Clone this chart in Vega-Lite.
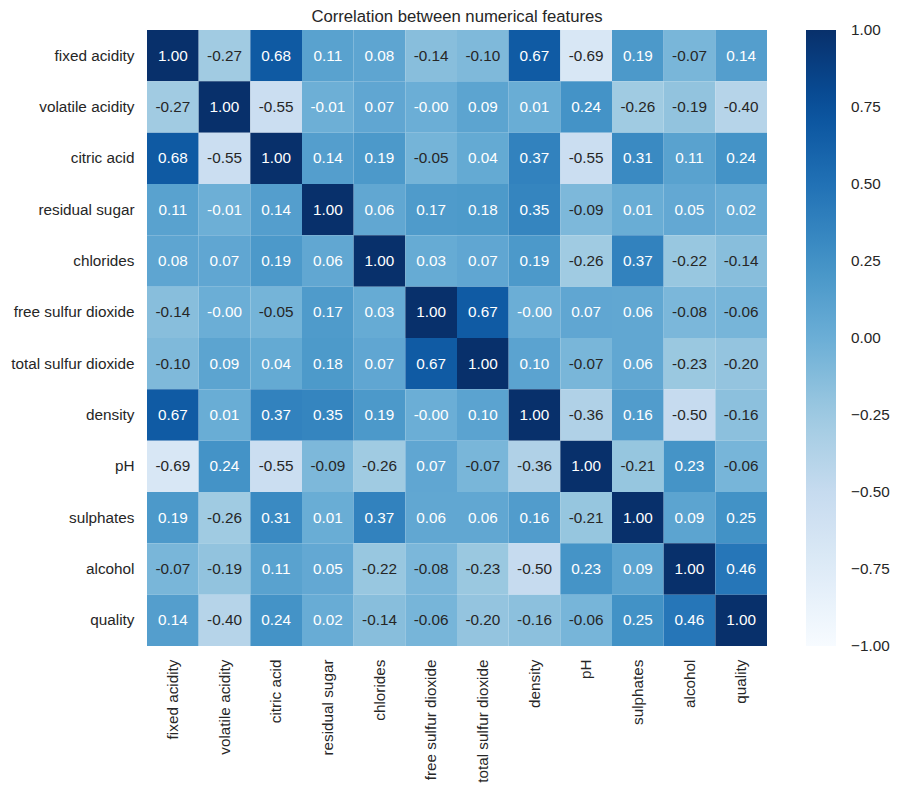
{
  "$schema": "https://vega.github.io/schema/vega-lite/v6.json",
  "autosize": {"type": "none"},
  "padding": {"left": 147, "top": 30, "right": 131, "bottom": 147},
  "width": 620,
  "height": 616,
  "background": "white",
  "title": {
    "text": "Correlation between numerical features",
    "font": "Liberation Sans",
    "fontSize": 16.7,
    "fontWeight": "normal",
    "color": "#262626",
    "anchor": "middle",
    "frame": "group",
    "baseline": "alphabetic",
    "offset": 8,
    "dy": 17
  },
  "config": {
    "view": {"stroke": null},
    "font": "Liberation Sans",
    "axis": {
      "domain": false,
      "ticks": false,
      "tickSize": 0,
      "grid": false,
      "title": null,
      "labelFont": "Liberation Sans",
      "labelFontSize": 15.3,
      "labelColor": "#262626",
      "labelPadding": 13,
      "labelLimit": 300
    }
  },
  "data": {
    "values": [
      {"row": "fixed acidity", "col": "fixed acidity", "r": 1.00},
      {"row": "fixed acidity", "col": "volatile acidity", "r": -0.27},
      {"row": "fixed acidity", "col": "citric acid", "r": 0.68},
      {"row": "fixed acidity", "col": "residual sugar", "r": 0.11},
      {"row": "fixed acidity", "col": "chlorides", "r": 0.08},
      {"row": "fixed acidity", "col": "free sulfur dioxide", "r": -0.14},
      {"row": "fixed acidity", "col": "total sulfur dioxide", "r": -0.10},
      {"row": "fixed acidity", "col": "density", "r": 0.67},
      {"row": "fixed acidity", "col": "pH", "r": -0.69},
      {"row": "fixed acidity", "col": "sulphates", "r": 0.19},
      {"row": "fixed acidity", "col": "alcohol", "r": -0.07},
      {"row": "fixed acidity", "col": "quality", "r": 0.14},

      {"row": "volatile acidity", "col": "fixed acidity", "r": -0.27},
      {"row": "volatile acidity", "col": "volatile acidity", "r": 1.00},
      {"row": "volatile acidity", "col": "citric acid", "r": -0.55},
      {"row": "volatile acidity", "col": "residual sugar", "r": -0.01},
      {"row": "volatile acidity", "col": "chlorides", "r": 0.07},
      {"row": "volatile acidity", "col": "free sulfur dioxide", "r": -0.002},
      {"row": "volatile acidity", "col": "total sulfur dioxide", "r": 0.09},
      {"row": "volatile acidity", "col": "density", "r": 0.01},
      {"row": "volatile acidity", "col": "pH", "r": 0.24},
      {"row": "volatile acidity", "col": "sulphates", "r": -0.26},
      {"row": "volatile acidity", "col": "alcohol", "r": -0.19},
      {"row": "volatile acidity", "col": "quality", "r": -0.40},

      {"row": "citric acid", "col": "fixed acidity", "r": 0.68},
      {"row": "citric acid", "col": "volatile acidity", "r": -0.55},
      {"row": "citric acid", "col": "citric acid", "r": 1.00},
      {"row": "citric acid", "col": "residual sugar", "r": 0.14},
      {"row": "citric acid", "col": "chlorides", "r": 0.19},
      {"row": "citric acid", "col": "free sulfur dioxide", "r": -0.05},
      {"row": "citric acid", "col": "total sulfur dioxide", "r": 0.04},
      {"row": "citric acid", "col": "density", "r": 0.37},
      {"row": "citric acid", "col": "pH", "r": -0.55},
      {"row": "citric acid", "col": "sulphates", "r": 0.31},
      {"row": "citric acid", "col": "alcohol", "r": 0.11},
      {"row": "citric acid", "col": "quality", "r": 0.24},

      {"row": "residual sugar", "col": "fixed acidity", "r": 0.11},
      {"row": "residual sugar", "col": "volatile acidity", "r": -0.01},
      {"row": "residual sugar", "col": "citric acid", "r": 0.14},
      {"row": "residual sugar", "col": "residual sugar", "r": 1.00},
      {"row": "residual sugar", "col": "chlorides", "r": 0.06},
      {"row": "residual sugar", "col": "free sulfur dioxide", "r": 0.17},
      {"row": "residual sugar", "col": "total sulfur dioxide", "r": 0.18},
      {"row": "residual sugar", "col": "density", "r": 0.35},
      {"row": "residual sugar", "col": "pH", "r": -0.09},
      {"row": "residual sugar", "col": "sulphates", "r": 0.01},
      {"row": "residual sugar", "col": "alcohol", "r": 0.05},
      {"row": "residual sugar", "col": "quality", "r": 0.02},

      {"row": "chlorides", "col": "fixed acidity", "r": 0.08},
      {"row": "chlorides", "col": "volatile acidity", "r": 0.07},
      {"row": "chlorides", "col": "citric acid", "r": 0.19},
      {"row": "chlorides", "col": "residual sugar", "r": 0.06},
      {"row": "chlorides", "col": "chlorides", "r": 1.00},
      {"row": "chlorides", "col": "free sulfur dioxide", "r": 0.03},
      {"row": "chlorides", "col": "total sulfur dioxide", "r": 0.07},
      {"row": "chlorides", "col": "density", "r": 0.19},
      {"row": "chlorides", "col": "pH", "r": -0.26},
      {"row": "chlorides", "col": "sulphates", "r": 0.37},
      {"row": "chlorides", "col": "alcohol", "r": -0.22},
      {"row": "chlorides", "col": "quality", "r": -0.14},

      {"row": "free sulfur dioxide", "col": "fixed acidity", "r": -0.14},
      {"row": "free sulfur dioxide", "col": "volatile acidity", "r": -0.002},
      {"row": "free sulfur dioxide", "col": "citric acid", "r": -0.05},
      {"row": "free sulfur dioxide", "col": "residual sugar", "r": 0.17},
      {"row": "free sulfur dioxide", "col": "chlorides", "r": 0.03},
      {"row": "free sulfur dioxide", "col": "free sulfur dioxide", "r": 1.00},
      {"row": "free sulfur dioxide", "col": "total sulfur dioxide", "r": 0.67},
      {"row": "free sulfur dioxide", "col": "density", "r": -0.002},
      {"row": "free sulfur dioxide", "col": "pH", "r": 0.07},
      {"row": "free sulfur dioxide", "col": "sulphates", "r": 0.06},
      {"row": "free sulfur dioxide", "col": "alcohol", "r": -0.08},
      {"row": "free sulfur dioxide", "col": "quality", "r": -0.06},

      {"row": "total sulfur dioxide", "col": "fixed acidity", "r": -0.10},
      {"row": "total sulfur dioxide", "col": "volatile acidity", "r": 0.09},
      {"row": "total sulfur dioxide", "col": "citric acid", "r": 0.04},
      {"row": "total sulfur dioxide", "col": "residual sugar", "r": 0.18},
      {"row": "total sulfur dioxide", "col": "chlorides", "r": 0.07},
      {"row": "total sulfur dioxide", "col": "free sulfur dioxide", "r": 0.67},
      {"row": "total sulfur dioxide", "col": "total sulfur dioxide", "r": 1.00},
      {"row": "total sulfur dioxide", "col": "density", "r": 0.10},
      {"row": "total sulfur dioxide", "col": "pH", "r": -0.07},
      {"row": "total sulfur dioxide", "col": "sulphates", "r": 0.06},
      {"row": "total sulfur dioxide", "col": "alcohol", "r": -0.23},
      {"row": "total sulfur dioxide", "col": "quality", "r": -0.20},

      {"row": "density", "col": "fixed acidity", "r": 0.67},
      {"row": "density", "col": "volatile acidity", "r": 0.01},
      {"row": "density", "col": "citric acid", "r": 0.37},
      {"row": "density", "col": "residual sugar", "r": 0.35},
      {"row": "density", "col": "chlorides", "r": 0.19},
      {"row": "density", "col": "free sulfur dioxide", "r": -0.002},
      {"row": "density", "col": "total sulfur dioxide", "r": 0.10},
      {"row": "density", "col": "density", "r": 1.00},
      {"row": "density", "col": "pH", "r": -0.36},
      {"row": "density", "col": "sulphates", "r": 0.16},
      {"row": "density", "col": "alcohol", "r": -0.50},
      {"row": "density", "col": "quality", "r": -0.16},

      {"row": "pH", "col": "fixed acidity", "r": -0.69},
      {"row": "pH", "col": "volatile acidity", "r": 0.24},
      {"row": "pH", "col": "citric acid", "r": -0.55},
      {"row": "pH", "col": "residual sugar", "r": -0.09},
      {"row": "pH", "col": "chlorides", "r": -0.26},
      {"row": "pH", "col": "free sulfur dioxide", "r": 0.07},
      {"row": "pH", "col": "total sulfur dioxide", "r": -0.07},
      {"row": "pH", "col": "density", "r": -0.36},
      {"row": "pH", "col": "pH", "r": 1.00},
      {"row": "pH", "col": "sulphates", "r": -0.21},
      {"row": "pH", "col": "alcohol", "r": 0.23},
      {"row": "pH", "col": "quality", "r": -0.06},

      {"row": "sulphates", "col": "fixed acidity", "r": 0.19},
      {"row": "sulphates", "col": "volatile acidity", "r": -0.26},
      {"row": "sulphates", "col": "citric acid", "r": 0.31},
      {"row": "sulphates", "col": "residual sugar", "r": 0.01},
      {"row": "sulphates", "col": "chlorides", "r": 0.37},
      {"row": "sulphates", "col": "free sulfur dioxide", "r": 0.06},
      {"row": "sulphates", "col": "total sulfur dioxide", "r": 0.06},
      {"row": "sulphates", "col": "density", "r": 0.16},
      {"row": "sulphates", "col": "pH", "r": -0.21},
      {"row": "sulphates", "col": "sulphates", "r": 1.00},
      {"row": "sulphates", "col": "alcohol", "r": 0.09},
      {"row": "sulphates", "col": "quality", "r": 0.25},

      {"row": "alcohol", "col": "fixed acidity", "r": -0.07},
      {"row": "alcohol", "col": "volatile acidity", "r": -0.19},
      {"row": "alcohol", "col": "citric acid", "r": 0.11},
      {"row": "alcohol", "col": "residual sugar", "r": 0.05},
      {"row": "alcohol", "col": "chlorides", "r": -0.22},
      {"row": "alcohol", "col": "free sulfur dioxide", "r": -0.08},
      {"row": "alcohol", "col": "total sulfur dioxide", "r": -0.23},
      {"row": "alcohol", "col": "density", "r": -0.50},
      {"row": "alcohol", "col": "pH", "r": 0.23},
      {"row": "alcohol", "col": "sulphates", "r": 0.09},
      {"row": "alcohol", "col": "alcohol", "r": 1.00},
      {"row": "alcohol", "col": "quality", "r": 0.46},

      {"row": "quality", "col": "fixed acidity", "r": 0.14},
      {"row": "quality", "col": "volatile acidity", "r": -0.40},
      {"row": "quality", "col": "citric acid", "r": 0.24},
      {"row": "quality", "col": "residual sugar", "r": 0.02},
      {"row": "quality", "col": "chlorides", "r": -0.14},
      {"row": "quality", "col": "free sulfur dioxide", "r": -0.06},
      {"row": "quality", "col": "total sulfur dioxide", "r": -0.20},
      {"row": "quality", "col": "density", "r": -0.16},
      {"row": "quality", "col": "pH", "r": -0.06},
      {"row": "quality", "col": "sulphates", "r": 0.25},
      {"row": "quality", "col": "alcohol", "r": 0.46},
      {"row": "quality", "col": "quality", "r": 1.00}
    ]
  },
  "transform": [
    {"calculate": "(datum.r < 0 ? '-' : '') + format(abs(datum.r), '.2f')", "as": "label"}
  ],
  "encoding": {
    "x": {
      "field": "col",
      "type": "nominal",
      "scale": {
        "domain": ["fixed acidity", "volatile acidity", "citric acid", "residual sugar", "chlorides", "free sulfur dioxide", "total sulfur dioxide", "density", "pH", "sulphates", "alcohol", "quality"],
        "paddingInner": 0,
        "paddingOuter": 0
      },
      "axis": {"orient": "bottom", "labelAngle": 270, "labelAlign": "right", "labelBaseline": "middle"}
    },
    "y": {
      "field": "row",
      "type": "nominal",
      "scale": {
        "domain": ["fixed acidity", "volatile acidity", "citric acid", "residual sugar", "chlorides", "free sulfur dioxide", "total sulfur dioxide", "density", "pH", "sulphates", "alcohol", "quality"],
        "paddingInner": 0,
        "paddingOuter": 0
      },
      "axis": {"orient": "left"}
    }
  },
  "layer": [
    {
      "mark": {"type": "rect", "strokeWidth": 0},
      "encoding": {
        "color": {
          "field": "r",
          "type": "quantitative",
          "scale": {
            "type": "linear",
            "domain": [-1, -0.75, -0.5, -0.25, 0, 0.25, 0.5, 0.75, 1],
            "range": ["#f7fbff", "#deebf7", "#c6dbef", "#9ecae1", "#6baed6", "#4292c6", "#2171b5", "#08519c", "#08306b"],
            "interpolate": "rgb"
          },
          "legend": {
            "title": null,
            "orient": "right",
            "offset": 39,
            "padding": 0,
            "gradientLength": 616,
            "gradientThickness": 30,
            "gradientStrokeWidth": 0,
            "values": [-1, -0.75, -0.5, -0.25, 0, 0.25, 0.5, 0.75, 1],
            "format": ".2f",
            "labelFont": "Liberation Sans",
            "labelFontSize": 15.3,
            "labelColor": "#262626",
            "labelOffset": 15,
            "labelOverlap": false,
            "encode": {
              "labels": {
                "update": {"baseline": {"value": "middle"}}
              }
            }
          }
        }
      }
    },
    {
      "mark": {"type": "text", "font": "Liberation Sans", "fontSize": 15.3, "baseline": "middle", "align": "center"},
      "encoding": {
        "text": {"field": "label", "type": "nominal"},
        "color": {
          "condition": {"test": "datum.r > -0.03", "value": "#ffffff"},
          "value": "#262626"
        }
      }
    }
  ]
}
